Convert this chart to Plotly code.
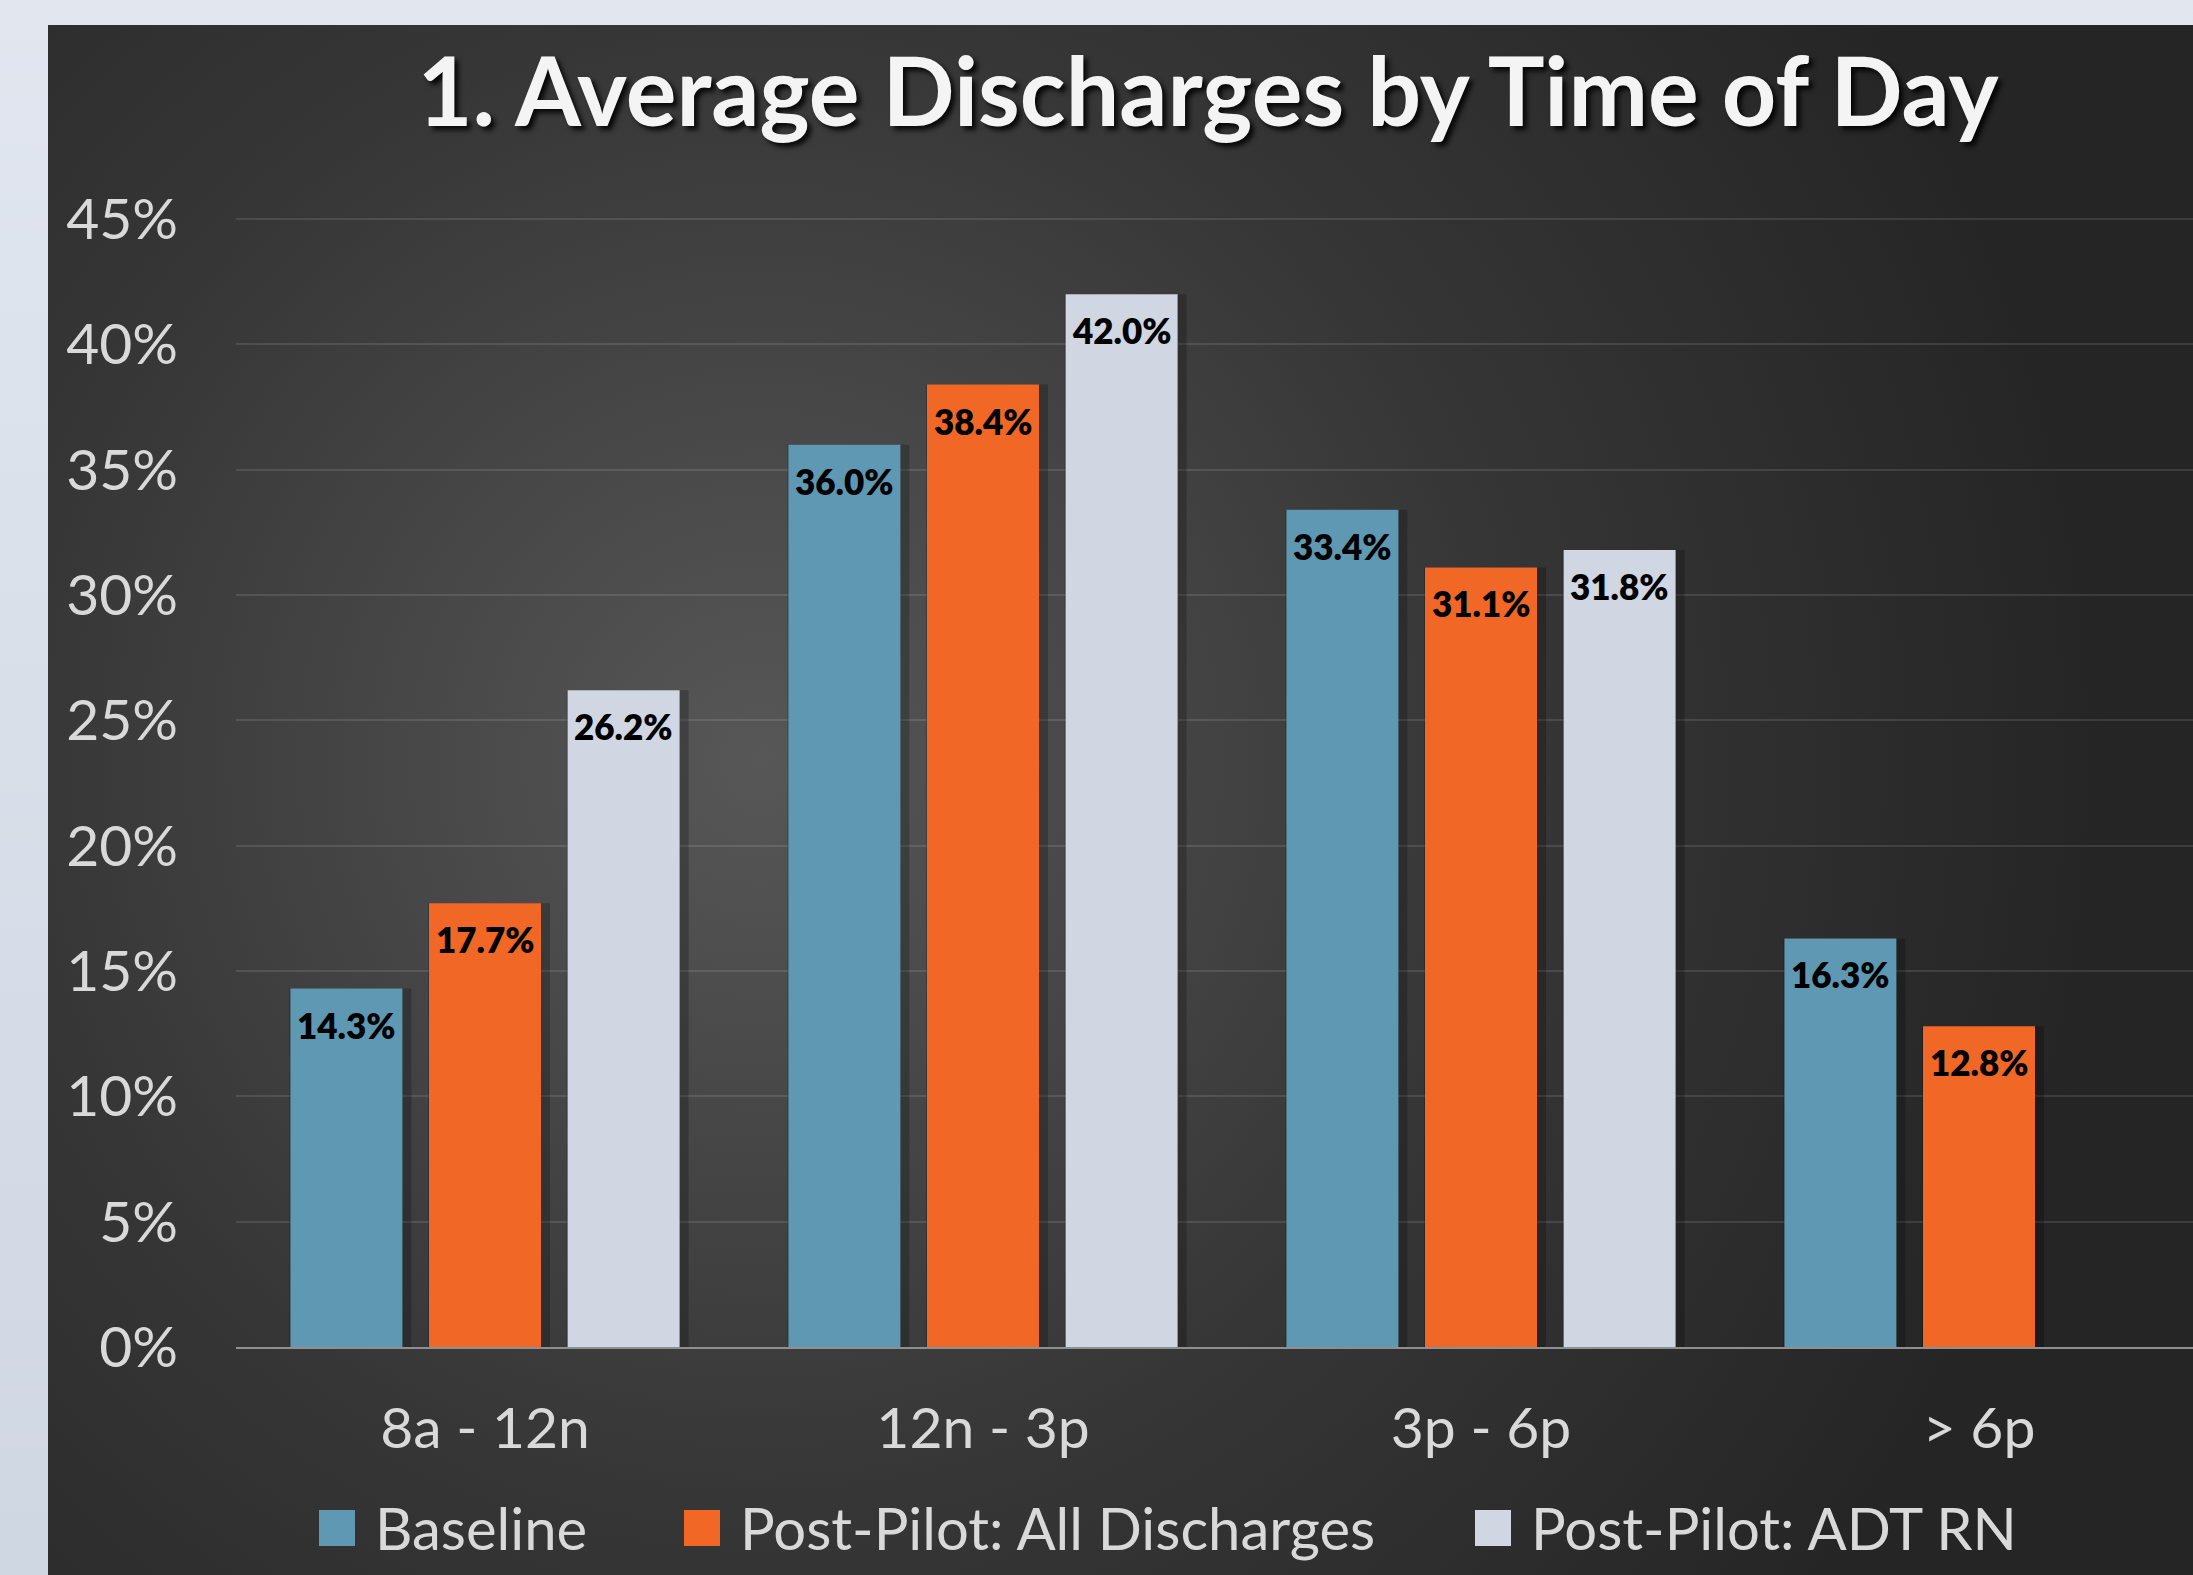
import base64
import plotly.graph_objects as go

# ---- data -------------------------------------------------------------
categories = ["8a - 12n", "12n - 3p", "3p - 6p", "> 6p"]
baseline = [14.3, 36.0, 33.4, 16.3]
post_all = [17.7, 38.4, 31.1, 12.8]
post_adt = [26.2, 42.0, 31.8, None]
series_names = ["Baseline", "Post-Pilot: All Discharges", "Post-Pilot: ADT RN"]
y_ticks = [0, 5, 10, 15, 20, 25, 30, 35, 40, 45]
title_text = "1. Average Discharges by Time of Day"

# ---- styling ----------------------------------------------------------
colors = ["#5e98b2", "#f16826", "#d0d7e2"]
FONT = "Lato, 'Open Sans', sans-serif"
TEXT_GREY = "#d9d9d9"

W, H = 2193, 1575
M_L, M_R, M_T, M_B = 236, 0, 194, 228
PLOT_W = W - M_L - M_R
PLOT_H = H - M_T - M_B
BAND_PX = 498.0                       # pixel width of one category band
BAR_W = 112.0 / BAND_PX               # bar width in category units
STEP = 138.6 / BAND_PX                # distance between bar centres in a group
X_MAX = -0.5 + PLOT_W / BAND_PX


def px_x(px):
    return (px - M_L) / PLOT_W


def px_y(py):
    return 1 - (py - M_T) / PLOT_H


# background: light frame with a dark radial-gradient panel
svg = f"""<svg xmlns='http://www.w3.org/2000/svg' width='{W}' height='{H}' viewBox='0 0 {W} {H}'>
<defs>
<linearGradient id='frame' x1='0' y1='0' x2='0' y2='1'>
<stop offset='0' stop-color='#e1e6ef'/><stop offset='1' stop-color='#cfd7e3'/>
</linearGradient>
<radialGradient id='panel' gradientUnits='userSpaceOnUse' cx='760' cy='760' r='1350'>
<stop offset='0' stop-color='#575757'/>
<stop offset='0.55' stop-color='#363636'/>
<stop offset='1' stop-color='#252525'/>
</radialGradient>
</defs>
<rect x='0' y='0' width='{W}' height='{H}' fill='url(#frame)'/>
<rect x='48' y='25' width='{W - 48}' height='{H - 25}' fill='url(#panel)'/>
</svg>"""
bg_uri = "data:image/svg+xml;base64," + base64.b64encode(svg.encode()).decode()

fig = go.Figure()

all_series = [baseline, post_all, post_adt]
annotations = []
for k, (name, vals, col) in enumerate(zip(series_names, all_series, colors)):
    centre = (k - 1) * STEP
    # soft drop shadow behind each bar
    fig.add_trace(go.Bar(
        x=categories, y=vals, width=BAR_W + 10 / BAND_PX,
        offset=centre - BAR_W / 2 - 1 / BAND_PX,
        marker=dict(color="rgba(0,0,0,0.22)", line=dict(width=0)),
        showlegend=False, hoverinfo="skip",
    ))
    fig.add_trace(go.Bar(
        x=categories, y=vals, name=name, width=BAR_W,
        offset=centre - BAR_W / 2,
        marker=dict(color=col, line=dict(width=0)),
        showlegend=False,
    ))
    for i, v in enumerate(vals):
        if v is None:
            continue
        annotations.append(dict(
            x=i + centre, y=v, xref="x", yref="y",
            text=f"{v:.1f}%", showarrow=False,
            yanchor="middle", yshift=-36,
            font=dict(family=FONT, size=35, color="#000000", weight=800),
        ))

# legend drawn by hand so the swatches match the text size
shapes = []
legend_left = [319, 684, 1475]
for name, col, lx in zip(series_names, colors, legend_left):
    shapes.append(dict(
        type="rect", xref="paper", yref="paper",
        x0=px_x(lx), x1=px_x(lx + 36), y0=px_y(1546), y1=px_y(1510),
        fillcolor=col, line=dict(width=0), layer="above",
    ))
    annotations.append(dict(
        x=px_x(lx + 54), y=px_y(1527), xref="paper", yref="paper",
        text=name, showarrow=False, xanchor="left", yanchor="middle",
        font=dict(family=FONT, size=58, color=TEXT_GREY),
    ))

fig.update_layout(
    width=W, height=H,
    margin=dict(l=M_L, r=M_R, t=M_T, b=M_B, pad=0),
    paper_bgcolor="#dfe4ee",
    plot_bgcolor="rgba(0,0,0,0)",
    barmode="overlay",
    showlegend=False,
    title=dict(
        text=title_text, x=1208 / W, xanchor="center",
        y=1 - 93 / H, yanchor="middle", yref="container",
        font=dict(family=FONT, size=95, color="#f4f4f4", weight=700,
                  shadow="4px 4px 5px rgba(0,0,0,0.85)"),
    ),
    images=[dict(
        source=bg_uri, xref="paper", yref="paper",
        x=px_x(0), y=px_y(0), sizex=W / PLOT_W, sizey=H / PLOT_H,
        xanchor="left", yanchor="top", sizing="stretch", layer="below",
    )],
    shapes=shapes,
    annotations=annotations,
    xaxis=dict(
        type="category", range=[-0.5, X_MAX],
        showgrid=False, zeroline=False,
        showline=True, linecolor="#8f8f8f", linewidth=2,
        ticks="", ticklabelstandoff=31,
        tickfont=dict(family=FONT, size=57, color=TEXT_GREY),
        fixedrange=True,
    ),
    yaxis=dict(
        range=[0, 46], tickvals=y_ticks, ticktext=[f"{t}%" for t in y_ticks],
        showgrid=True, gridcolor="rgba(255,255,255,0.11)", gridwidth=2,
        zeroline=False, showline=False, ticks="",
        ticklabelstandoff=57,
        tickfont=dict(family=FONT, size=57, color=TEXT_GREY),
        fixedrange=True,
    ),
)

fig.write_html("out.html")
